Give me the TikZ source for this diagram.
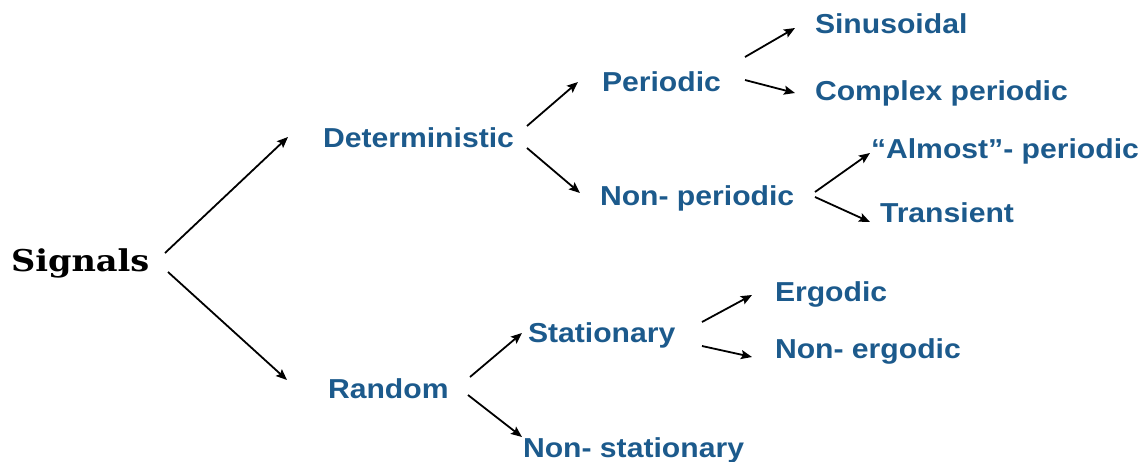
\documentclass[tikz,border=0pt]{standalone}
\usepackage{fontspec}
\newfontfamily\lblfont{Liberation Sans}
\newfontfamily\rootfont{DejaVu Serif}
\usetikzlibrary{arrows.meta,calc}
\definecolor{lblblue}{HTML}{1C5A8C}
\tikzset{
  lbl/.style={anchor=base west, inner sep=0pt, outer sep=0pt, xscale=1.1,
    text=lblblue, font=\lblfont\bfseries\fontsize{13.7}{16}\selectfont},
  rootlbl/.style={anchor=base west, inner sep=0pt, outer sep=0pt, xscale=1.12,
    text=black, font=\rootfont\bfseries\fontsize{15}{18}\selectfont},
  arr/.style={-{Stealth[length=5.5pt,width=4.5pt,inset=1pt]}, line width=0.9pt, black}
}
\begin{document}
\begin{tikzpicture}[x=0.5pt,y=-0.5pt]
\useasboundingbox (0,0) rectangle (1147,461);
\node[rootlbl] (sig) at (11,271) {Signals};
\node[lbl] (det) at (323,147) {Deterministic};
\node[lbl] (ran) at (328,398) {Random};
\node[lbl] (per) at (602,91) {Periodic};
\node[lbl] (nper) at (600,205) {Non- periodic};
\node[lbl] (sta) at (528,342) {Stationary};
\node[lbl] (nst) at (523,457) {Non- stationary};
\node[lbl] (sin) at (815,33) {Sinusoidal};
\node[lbl] (com) at (815,100) {Complex periodic};
\node[lbl] (alm) at (871,158) {“Almost”- periodic};
\node[lbl] (tra) at (880,222) {Transient};
\node[lbl] (erg) at (775,301) {Ergodic};
\node[lbl] (ner) at (775,358) {Non- ergodic};

\draw[arr] ($(sig.base west)+(154,-18)$) -- ($(det.base west)+(-35,-10)$);
\draw[arr] ($(sig.base west)+(157,1)$) -- ($(ran.base west)+(-41,-18)$);
\draw[arr] ($(det.base west)+(204,-21)$) -- ($(per.base west)+(-24,-9)$);
\draw[arr] ($(det.base west)+(204,1)$) -- ($(nper.base west)+(-20,-12)$);
\draw[arr] ($(per.base west)+(143,-34)$) -- ($(sin.base west)+(-20,-5)$);
\draw[arr] ($(per.base west)+(143,-11)$) -- ($(com.base west)+(-20,-7)$);
\draw[arr] ($(nper.base west)+(215,-13)$) -- ($(alm.base west)+(-1,-5)$);
\draw[arr] ($(nper.base west)+(215,-8)$) -- ($(tra.base west)+(-10,0)$);
\draw[arr] ($(ran.base west)+(142,-21)$) -- ($(sta.base west)+(-6,-9)$);
\draw[arr] ($(ran.base west)+(140,-3)$) -- ($(nst.base west)+(-1,-20)$);
\draw[arr] ($(sta.base west)+(174,-20)$) -- ($(erg.base west)+(-23,-6)$);
\draw[arr] ($(sta.base west)+(174,4)$) -- ($(ner.base west)+(-23,-1)$);
\end{tikzpicture}
\end{document}
